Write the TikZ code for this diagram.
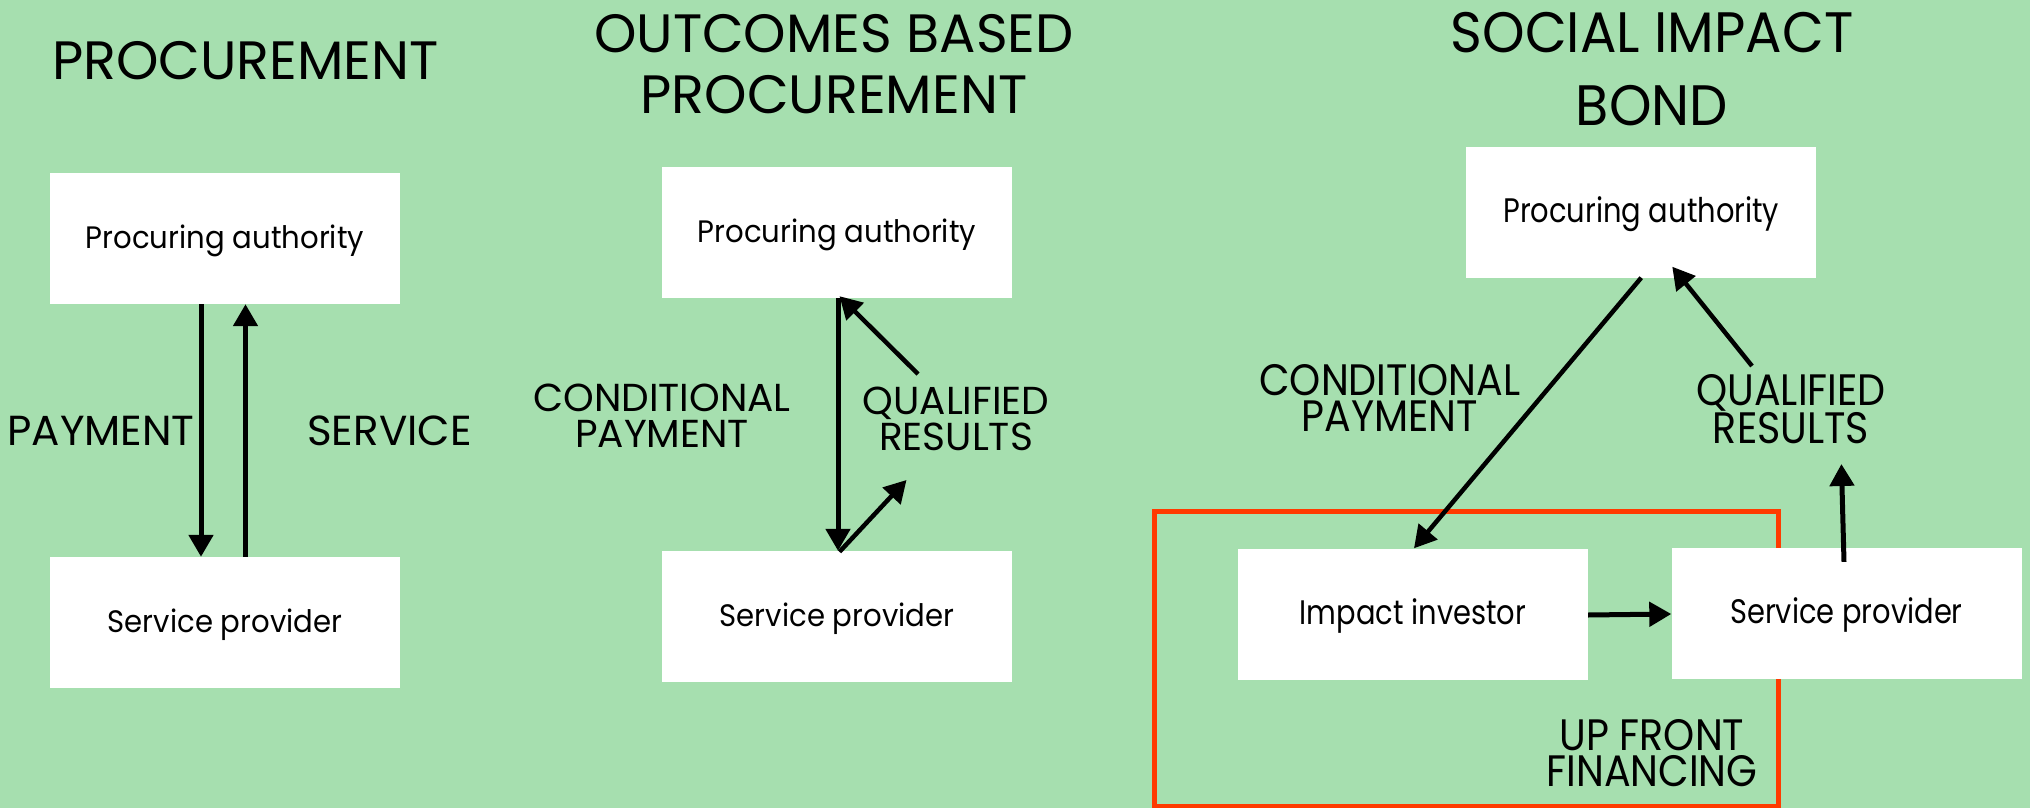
\documentclass[tikz,border=0pt]{standalone}
\usepackage{fontspec}
\setmainfont{Poppins}
\newfontfamily\boxfont[FakeStretch=0.94]{Poppins}
\newfontfamily\condfont[FakeStretch=0.85]{Poppins}
\newfontfamily\lblfont[FakeStretch=0.9]{Poppins}
\newfontfamily\ttlfont[FakeStretch=0.95]{Poppins}
\usetikzlibrary{arrows.meta,calc}
\definecolor{bg}{HTML}{A6DFAF}
\definecolor{redline}{HTML}{FF3A00}
\begin{document}
\begin{tikzpicture}[x=1pt,y=-1pt,
  box/.style={fill=white, inner sep=0pt, minimum width=350pt, minimum height=131pt,
    text height=19pt, text depth=0pt, font=\boxfont\fontsize{31}{40}\selectfont},
  cbox/.style={box, font=\condfont\fontsize{34}{40}\selectfont, text height=20pt},
  lbl/.style={inner sep=0pt, align=center, font=\fontsize{42}{36}\selectfont},
  mlbl/.style={inner sep=0pt, align=center, font=\fontsize{39}{36}\selectfont},
  clbl/.style={inner sep=0pt, align=center, font=\lblfont\fontsize{44}{36}\selectfont},
  ttl/.style={inner sep=0pt, align=center, font=\fontsize{54}{61}\selectfont},
  cttl/.style={inner sep=0pt, align=center, font=\ttlfont\fontsize{57}{73}\selectfont},
  arr/.style={line width=5pt, -{Triangle[width=24pt,length=22pt]}},
  tarr/.style={line width=4.5pt, -{Triangle[width=24pt,length=22pt]}},
  frame/.style={draw=redline, line width=5pt}
]
\fill[bg] (0,0) rectangle (2030,808);
\useasboundingbox (0,0) rectangle (2030,808);

% ---------- Panel 1 ----------
\node[ttl] (t1) at (245.5,60.5) {PROCUREMENT};
\node[box] (PA1) at (225,238.5) {Procuring authority};
\node[box] (SP1) at (225,622.5) {Service provider};
\draw[arr] ([xshift=-24pt]PA1.south) -- ([xshift=-24pt]SP1.north);
\draw[arr] ([xshift=20.5pt]SP1.north) -- ([xshift=20.5pt]PA1.south);
\node[lbl] (pay1) at (101,430.5) {PAYMENT};
\node[lbl] (ser1) at (389.5,430.5) {SERVICE};

% ---------- Panel 2 ----------
\node[ttl] (t2) at (834,64) {OUTCOMES BASED\\PROCUREMENT};
\node[box] (PA2) at (837,232.5) {Procuring authority};
\node[box] (SP2) at (837,616.5) {Service provider};
\coordinate (q2top) at (918,374);
\coordinate (q2bot) at (906.5,480);
\draw[arr] ([xshift=1pt]PA2.south) -- ([xshift=1pt]SP2.north);
\draw[tarr] (q2top) -- ([xshift=2.5pt,yshift=2pt]PA2.south);
\draw[tarr] ([xshift=2.5pt,yshift=-1pt]SP2.north) -- (q2bot);
\node[mlbl] (cp2) at (662,416) {CONDITIONAL\\PAYMENT};
\node[mlbl] (qr2) at (956,419) {QUALIFIED\\RESULTS};

% ---------- Panel 3 ----------
\node[cttl] (t3) at (1652,69) {SOCIAL IMPACT\\BOND};
\draw[frame] (1154.6,511.5) rectangle (1778,806);
\node[cbox] (PA3) at (1641.25,212) {Procuring authority};
\node[cbox] (II) at (1413,614) {Impact investor};
\node[cbox] (SP3) at (1846.5,613.5) {Service provider};
\coordinate (q3top) at (1752,366);
\coordinate (q3bot) at (1841.4,464);
\draw[tarr] (PA3.south) -- ([xshift=1pt]II.north);
\draw[arr] ([yshift=-1pt]II.east) -- ([yshift=-0.5pt]SP3.west);
\draw[arr] ([xshift=-2.5pt,yshift=-14pt]SP3.north) -- (q3bot);
\draw[tarr] (q3top) -- ([xshift=31pt,yshift=11pt]PA3.south);
\node[clbl] (cp3) at (1390,398) {CONDITIONAL\\PAYMENT};
\node[clbl] (qr3) at (1791,409.5) {QUALIFIED\\RESULTS};
\node[clbl] (uf3) at (1652,753.5) {UP FRONT\\FINANCING};
\end{tikzpicture}
\end{document}
